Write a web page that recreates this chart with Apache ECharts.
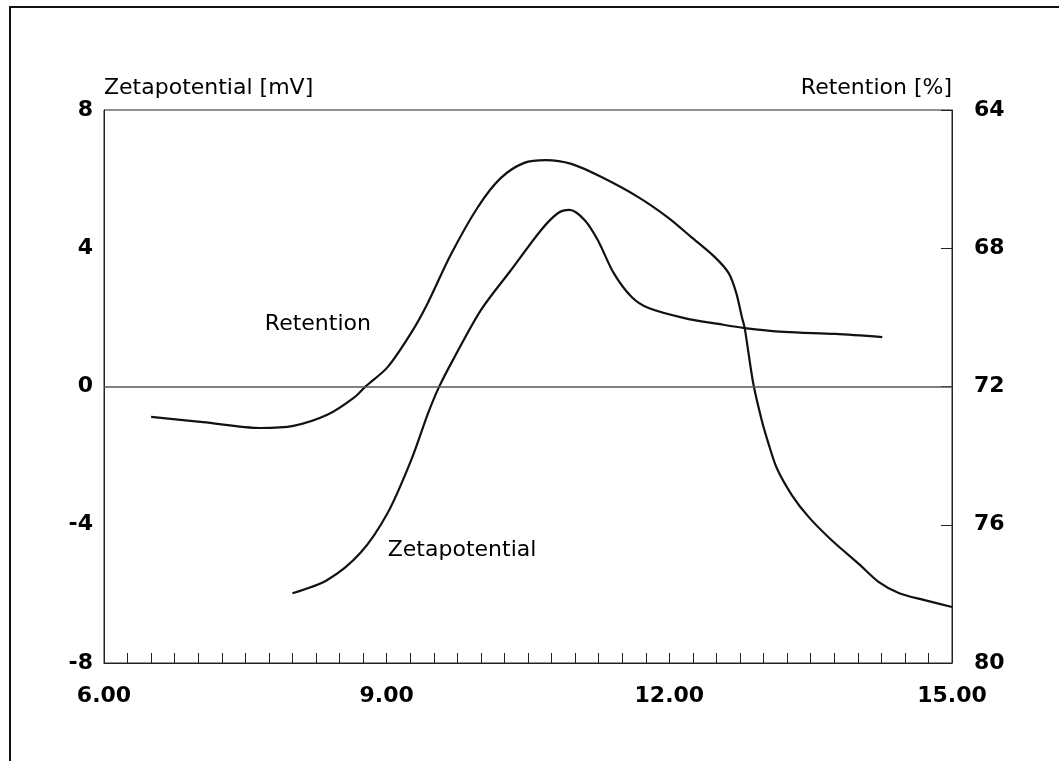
<!DOCTYPE html>
<html>
<head>
<meta charset="utf-8">
<script src="https://cdn.jsdelivr.net/npm/echarts@6/dist/echarts.min.js"></script>
<style>
  html, body { margin: 0; padding: 0; background: #fff; }
  #chart { width: 1059px; height: 761px; }
</style>
</head>
<body>
<div id="chart"></div>
<script>
// pH (x) vs retention [%] (right axis, inverted)
var retX = [6.50, 7.05, 7.66, 8.01, 8.37, 8.65, 8.78, 9.01, 9.26, 9.43, 9.68, 9.97, 10.21, 10.46, 10.69,
            10.96, 11.28, 11.67, 11.99, 12.23, 12.48, 12.63, 12.71, 12.77, 12.80, 12.89, 12.98, 13.05,
            13.14, 13.30, 13.48, 13.72, 14.01, 14.22, 14.44, 14.71, 15.00];
var retY = [72.88, 73.03, 73.20, 73.14, 72.82, 72.33, 71.99, 71.44, 70.45, 69.62, 68.19, 66.80, 65.97,
            65.53, 65.45, 65.56, 65.94, 66.52, 67.12, 67.67, 68.25, 68.72, 69.29, 69.99, 70.31, 71.90,
            72.97, 73.63, 74.36, 75.14, 75.78, 76.44, 77.13, 77.65, 77.98, 78.18, 78.38];

// zetapotential [mV] (left axis)
var zetaX = [8.00, 8.37, 8.72, 9.01, 9.26, 9.44, 9.56, 9.71, 10.00, 10.32, 10.64, 10.82, 10.94, 11.10,
             11.24, 11.41, 11.60, 11.78, 12.16, 12.52, 12.80, 13.22, 13.76, 14.26];
var zetaY = [-5.98, -5.60, -4.82, -3.66, -2.13, -0.77, 0.01, 0.80, 2.21, 3.37, 4.53, 5.02, 5.11, 4.82,
             4.24, 3.28, 2.59, 2.27, 1.98, 1.81, 1.69, 1.58, 1.52, 1.43];

var xTicks = { min: 6, max: 15, step: 3 };

function pairs(xs, ys) {
    var out = [];
    for (var i = 0; i < xs.length; i++) out.push([xs[i], ys[i]]);
    return out;
}

var chart = echarts.init(document.getElementById('chart'));
var font = 'DejaVu Sans';
var ink = '#000';

chart.setOption({
    backgroundColor: '#fff',
    animation: false,
    grid: {
        left: 104, right: 107, top: 110, bottom: 98,
        show: true, borderColor: '#222', borderWidth: 1
    },
    graphic: [{
        type: 'polyline',
        shape: { points: [[10, 761], [10, 7], [1059, 7]] },
        style: { stroke: '#111', lineWidth: 2, fill: null }
    }],
    xAxis: {
        type: 'value',
        min: xTicks.min, max: xTicks.max, interval: xTicks.step,
        axisLine: { show: true, onZero: false, lineStyle: { color: '#222', width: 1 } },
        axisTick: { show: true, inside: true, length: 10, lineStyle: { color: '#222' } },
        minorTick: { show: true, splitNumber: 12, length: 10, lineStyle: { color: '#222' } },
        splitLine: { show: false },
        axisLabel: {
            margin: 22, color: ink, fontFamily: font, fontSize: 22, fontWeight: 'bold',
            formatter: function (v) { return v.toFixed(2); }
        }
    },
    yAxis: [{
        type: 'value',
        min: -8, max: 8, interval: 4,
        name: 'Zetapotential [mV]',
        nameLocation: 'end', nameGap: 22,
        nameTextStyle: { align: 'left', verticalAlign: 'middle', color: ink, fontFamily: font, fontSize: 22 },
        axisLine: { show: true, onZero: false, lineStyle: { color: '#222', width: 1 } },
        axisTick: { show: false },
        splitLine: { show: false },
        axisLabel: { margin: 11, color: ink, fontFamily: font, fontSize: 22, fontWeight: 'bold' }
    }, {
        type: 'value',
        position: 'right',
        min: 64, max: 80, interval: 4,
        inverse: true,
        name: 'Retention [%]',
        nameLocation: 'start', nameGap: 22,
        nameTextStyle: { align: 'right', verticalAlign: 'middle', color: ink, fontFamily: font, fontSize: 22 },
        axisLine: { show: true, lineStyle: { color: '#222', width: 1 } },
        axisTick: { show: true, inside: true, length: 11, lineStyle: { color: '#222' } },
        splitLine: { show: false },
        axisLabel: { margin: 22, color: ink, fontFamily: font, fontSize: 22, fontWeight: 'bold' }
    }],
    series: [{
        name: 'Retention',
        type: 'line',
        yAxisIndex: 1,
        data: pairs(retX, retY),
        smooth: 0.3,
        showSymbol: false,
        lineStyle: { color: '#111', width: 2.2 },
        markPoint: {
            symbol: 'circle', symbolSize: 0,
            label: { show: true, position: 'inside', color: ink, fontFamily: font, fontSize: 22, formatter: 'Retention' },
            data: [{ coord: [8.27, 70.2] }]
        }
    }, {
        name: 'Zetapotential',
        type: 'line',
        yAxisIndex: 0,
        data: pairs(zetaX, zetaY),
        smooth: 0.3,
        showSymbol: false,
        lineStyle: { color: '#111', width: 2.2 },
        markLine: {
            silent: true, symbol: 'none', label: { show: false },
            lineStyle: { color: '#555', width: 1.5, type: 'solid' },
            data: [{ yAxis: 0 }]
        },
        markPoint: {
            symbol: 'circle', symbolSize: 0,
            label: { show: true, position: 'inside', color: ink, fontFamily: font, fontSize: 22, formatter: 'Zetapotential' },
            data: [{ coord: [9.8, -4.73] }]
        }
    }]
});
</script>
</body>
</html>
